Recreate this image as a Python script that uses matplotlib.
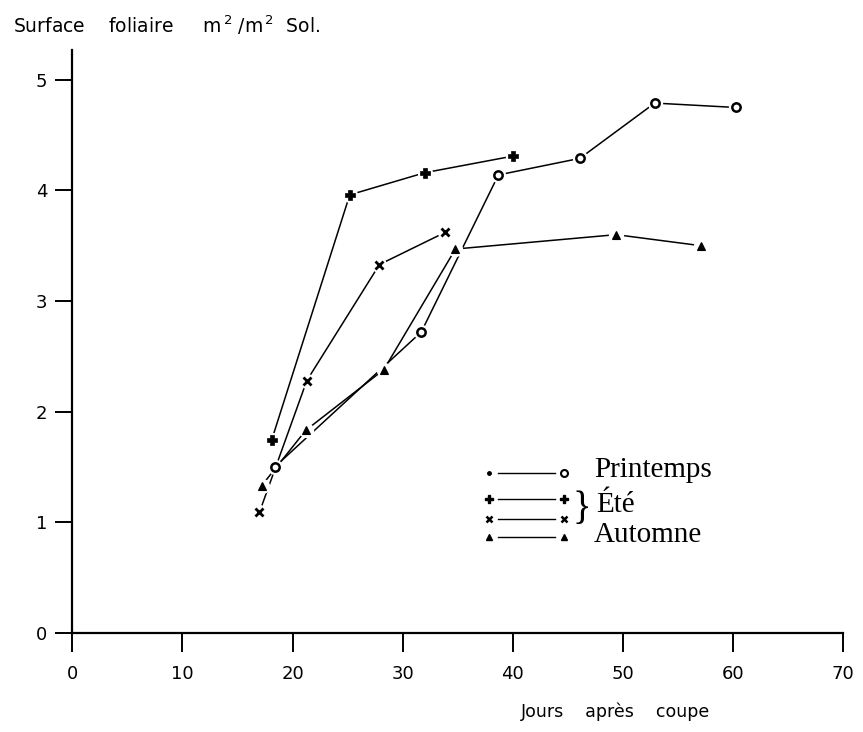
import matplotlib
matplotlib.use("Agg")
import matplotlib.pyplot as plt
from matplotlib.lines import Line2D

# ---- data ----
printemps_x = [18.4, 31.7, 38.7, 46.1, 52.9, 60.3]
printemps_y = [1.50, 2.72, 4.14, 4.29, 4.79, 4.75]

ete_plus_x = [18.1, 25.2, 32.0, 40.0]
ete_plus_y = [1.74, 3.96, 4.16, 4.31]

ete_x_x = [17.0, 21.3, 27.9, 33.85]
ete_x_y = [1.09, 2.28, 3.33, 3.62]

automne_x = [17.2, 21.2, 28.3, 34.8, 49.4, 57.1]
automne_y = [1.33, 1.83, 2.38, 3.47, 3.60, 3.50]

x_ticks = [0, 10, 20, 30, 40, 50, 60, 70]
x_ticklabels = ["0", "10", "20", "30", "40", "50", "60", "70"]
y_ticks = [0, 1, 2, 3, 4, 5]
y_ticklabels = ["0", "1", "2", "3", "4", "5"]

W, H = 863, 732
fig = plt.figure(figsize=(W / 100, H / 100), dpi=100)
ax_left, ax_right = 72.3 / W, 843 / W
ax_bottom, ax_top = 1 - 632.7 / H, 1 - 50 / H
ax = fig.add_axes([ax_left, ax_bottom, ax_right - ax_left, ax_top - ax_bottom])

ax.set_xlim(0, 70)
ax.set_ylim(0, 5.27)
for s in ["top", "right"]:
    ax.spines[s].set_visible(False)
for s in ["left", "bottom"]:
    ax.spines[s].set_linewidth(1.6)
    ax.spines[s].set_color("black")

ax.set_xticks(x_ticks)
ax.set_xticklabels(x_ticklabels)
ax.set_yticks(y_ticks)
ax.set_yticklabels(y_ticklabels)
ax.tick_params(axis="x", direction="out", length=14, width=1.4, pad=9, labelsize=13)
ax.tick_params(axis="y", direction="out", length=12, width=1.4, pad=6, labelsize=13)

lw = 1.1
# lines
ax.plot(printemps_x, printemps_y, color="black", lw=lw, zorder=2)
ax.plot(ete_plus_x, ete_plus_y, color="black", lw=lw, zorder=2)
ax.plot(ete_x_x, ete_x_y, color="black", lw=lw, zorder=2)
ax.plot(automne_x, automne_y, color="black", lw=lw, zorder=2)

# white halos to give the small gaps between lines and markers
for xs, ys in [(printemps_x, printemps_y), (ete_plus_x, ete_plus_y),
               (ete_x_x, ete_x_y), (automne_x, automne_y)]:
    ax.plot(xs, ys, ls="none", marker="o", ms=10, mfc="white", mec="white", zorder=3)

ax.plot(printemps_x, printemps_y, ls="none", marker="o", ms=6, mfc="white",
        mec="black", mew=1.8, zorder=4)
ax.plot(ete_plus_x, ete_plus_y, ls="none", marker="P", ms=6.5, mfc="black",
        mec="black", mew=0.5, zorder=4)
ax.plot(ete_x_x, ete_x_y, ls="none", marker="x", ms=5.5, mec="black", mew=2.0, zorder=4)
ax.plot(automne_x, automne_y, ls="none", marker="^", ms=5.5, mfc="black",
        mec="black", mew=0.8, zorder=4)

# ---- custom legend (axes-fraction coordinates) ----
def fx(px):
    return (px - 72.3) / (843 - 72.3)

def fy(py):
    return (632.7 - py) / (632.7 - 50)

x0, x1 = fx(489), fx(564)
rows = [
    (fy(473.3), ".", "o", dict(ms=5), dict(ms=5, mfc="white", mew=1.5)),
    (fy(499.3), "P", "P", dict(ms=5.5), dict(ms=5.5)),
    (fy(519.3), "x", "x", dict(ms=4.5, mew=1.8), dict(ms=4.5, mew=1.8)),
    (fy(537.3), "^", "^", dict(ms=4.5), dict(ms=4.5)),
]
for yy, m0, m1, k0, k1 in rows:
    ax.add_line(Line2D([x0 + 0.012, x1 - 0.012], [yy, yy], color="black", lw=1.0,
                       transform=ax.transAxes))
    ax.add_line(Line2D([x0], [yy], ls="none", marker=m0, color="black",
                       transform=ax.transAxes, **k0))
    ax.add_line(Line2D([x1], [yy], ls="none", marker=m1, color="black",
                       transform=ax.transAxes, **k1))

serif = ["Liberation Serif", "DejaVu Serif"]
fs_leg = 21
ax.text(fx(594), fy(470), "Printemps", transform=ax.transAxes, family=serif,
        fontsize=fs_leg, va="center", ha="left")
ax.text(fx(596), fy(505), "Été", transform=ax.transAxes, family=serif,
        fontsize=fs_leg, va="center", ha="left")
ax.text(fx(594), fy(535), "Automne", transform=ax.transAxes, family=serif,
        fontsize=fs_leg, va="center", ha="left")
ax.text(fx(572), fy(509), "}", transform=ax.transAxes, family=serif,
        fontsize=28, va="center", ha="left")

# ---- titles ----
fig.text(13 / W, 1 - 25 / H, r"Surface    foliaire     m$^{\,2}$ /m$^{\,2}$  Sol.",
         fontsize=13.5, ha="left", va="center")
fig.text(615 / W, 1 - 712 / H, "Jours    après    coupe", fontsize=12.5,
         ha="center", va="center")

fig.savefig("out.png", dpi=100)
